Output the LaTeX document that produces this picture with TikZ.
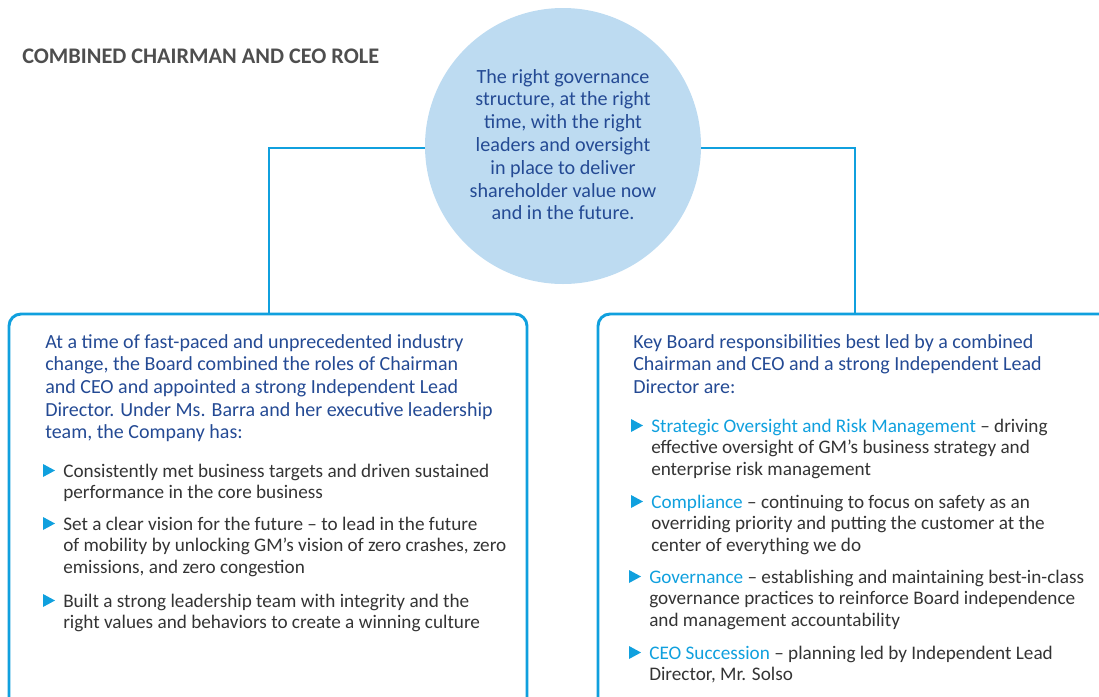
\documentclass[tikz,border=0pt]{standalone}
\usepackage{fontspec}
\setmainfont{Carlito}
\usepackage{xcolor}
\definecolor{linecyan}{RGB}{16,160,222}
\definecolor{circfill}{RGB}{189,219,241}
\definecolor{textblue}{RGB}{36,74,148}
\definecolor{bodygray}{RGB}{52,52,52}
\definecolor{titlegray}{RGB}{78,78,78}
\newcommand{\hl}[1]{\textcolor{linecyan}{#1}}
\newcommand{\leftlines}[1]{\begin{tabular}[t]{@{}l@{}}#1\end{tabular}}
\newcommand{\midlines}[1]{\begin{tabular}[t]{@{}c@{}}#1\end{tabular}}
\tikzset{
  frame/.style={draw=linecyan, line width=2.2pt},
  para/.style={anchor=base west, inner sep=0pt, text=textblue, font=\fontsize{15}{17}\selectfont},
  item/.style={anchor=base west, inner sep=0pt, text=bodygray, font=\fontsize{14.4}{16.2}\selectfont},
}
\newcommand{\bul}[1]{\fill [linecyan] ([xshift=-15pt]#1.base west) -- ++(0,-13) -- ++(12,6.5) -- cycle;}
\begin{document}
\begin{tikzpicture}[x=0.75pt,y=0.75pt,yscale=-1,xscale=1]
\useasboundingbox (0,0) rectangle (1099,696);
\clip (0,0) rectangle (1099,696);

% Coordinates
\coordinate (hub) at (563,148);
\coordinate (lefttop) at (269,314);
\coordinate (righttop) at (855,314);

%Straight Lines
\draw [frame] (hub) -| (lefttop);
\draw [frame] (hub) -| (righttop);

%Shape: Left box
\draw [frame, rounded corners=9pt] (9,720) -- (9,314) -- (527,314) -- (527,720);
%Shape: Right box
\draw [frame, rounded corners=9pt] (598,720) -- (598,314) -- (1120,314) -- (1120,720);

%Shape: Circle
\node [circle, fill=circfill, minimum size=207pt, inner sep=0pt] (circ) at (563,146) {};

% Text Node
\node [anchor=base west, inner sep=0pt, text=titlegray, font=\fontsize{16.7}{18}\selectfont\bfseries] (title) at (22,63) {COMBINED CHAIRMAN AND CEO ROLE};
% Text Node
\node [anchor=base, inner sep=0pt, text=textblue, font=\fontsize{15.1}{17.1}\selectfont] (goal) at (563,83) {\midlines{The right governance\\structure, at the right\\time, with the right\\leaders and oversight\\in place to deliver\\shareholder value now\\and in the future.}};

% Text Node
\node [para] (leftpara) at (45,348) {\leftlines{At a time of fast-paced and unprecedented industry\\change, the Board combined the roles of Chairman\\and CEO and appointed a strong Independent Lead\\Director. Under Ms. Barra and her executive leadership\\team, the Company has:}};
% Text Node
\node [item] (lone) at (63,477) {\leftlines{Consistently met business targets and driven sustained\\performance in the core business}};
\node [item] (ltwo) at (63,530) {\leftlines{Set a clear vision for the future -- to lead in the future\\of mobility by unlocking GM’s vision of zero crashes, zero\\emissions, and zero congestion}};
\node [item] (lthree) at (63,607) {\leftlines{Built a strong leadership team with integrity and the\\right values and behaviors to create a winning culture}};
\bul{lone} \bul{ltwo} \bul{lthree}

% Text Node
\node [para] (rightpara) at (633,348) {\leftlines{Key Board responsibilities best led by a combined\\Chairman and CEO and a strong Independent Lead\\Director are:}};
% Text Node
\node [item] (rone) at (651,432) {\leftlines{\hl{Strategic Oversight and Risk Management} -- driving\\effective oversight of GM’s business strategy and\\enterprise risk management}};
\node [item] (rtwo) at (651,508) {\leftlines{\hl{Compliance} -- continuing to focus on safety as an\\overriding priority and putting the customer at the\\center of everything we do}};
\node [item] (rthree) at (649,583) {\leftlines{\hl{Governance} -- establishing and maintaining best-in-class\\governance practices to reinforce Board independence\\and management accountability}};
\node [item] (rfour) at (649,659) {\leftlines{\hl{CEO Succession} -- planning led by Independent Lead\\Director, Mr. Solso}};
\bul{rone} \bul{rtwo} \bul{rthree} \bul{rfour}

\end{tikzpicture}
\end{document}
